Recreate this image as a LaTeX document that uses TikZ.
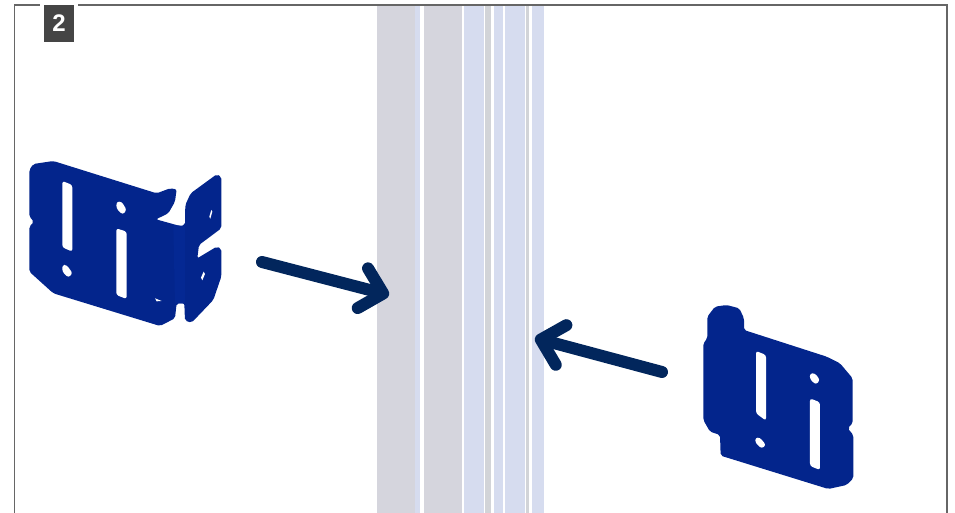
\documentclass[tikz,border=0pt]{standalone}
\usepackage{fontspec}
\setmainfont{Liberation Sans}
\usepackage{xcolor}
\usetikzlibrary{arrows.meta}
\definecolor{bracketblue}{HTML}{03258C}
\definecolor{bracketfold}{HTML}{042893}
\definecolor{arrownavy}{HTML}{02265C}
\definecolor{badgegray}{HTML}{454545}
\definecolor{postgray}{HTML}{D5D5DD}
\definecolor{postblue}{HTML}{D6DCEF}
\definecolor{postgreen}{HTML}{D2D4D8}
\tikzset{
  holefill/.style={fill=white, draw=none, rounded corners=2.5pt},
  pusharrow/.style={arrownavy, line width=12pt, line cap=round, -{Straight Barb[round, line width=12pt, length=21pt, width=41pt]}},
}
\begin{document}
\begin{tikzpicture}[x=1pt, y=-1pt]
\useasboundingbox (0,0) rectangle (955,513);

% Post strips
\foreach \xa/\xb/\col in {377/415/postgray, 415/420/postblue, 424/462/postgray, 464/484/postblue, 485/491/postgreen, 494/503/postblue, 505/525/postblue, 526/529/postgreen, 532/544/postblue}
  \fill[\col] (\xa,5) rectangle (\xb,513);

% Frame
\draw[gray!80!black, line width=1.5pt] (14.5,513) -- (14.5,5) -- (40,5);
\draw[gray!80!black, line width=1.5pt] (78,5) -- (947,5) -- (947,513);

% Badge
\node[fill=badgegray, text=white, font=\bfseries\fontsize{24}{24}\selectfont, minimum width=30pt, minimum height=37pt, inner sep=0pt] (badge) at (59,23.5) {2};

% Left bracket
\begin{scope}[shift={(0,130)}, x=0.3333pt, y=-0.3333pt]
  \fill[bracketblue, rounded corners=2pt] (88,120) -- (100,102) -- (160,93) -- (470,190) -- (510,175) -- (530,178) -- (525,215) -- (505,250) -- (468,268) -- (540,288) -- (555,285) -- (556,225) -- (572,190) -- (650,133) -- (664,140) -- (664,295) -- (597,345) -- (592,385) -- (650,350) -- (664,356) -- (664,440) -- (640,510) -- (575,578) -- (555,572) -- (553,520) -- (530,520) -- (525,565) -- (480,588) -- (160,490) -- (88,425) -- (88,290) -- (102,275) -- (88,260) -- cycle;
  \fill[bracketfold] (520,285) -- (555,290) -- (555,520) -- (525,520) -- cycle;
  \fill[holefill] (187,153) -- (217,165) -- (217,365) -- (187,352) -- cycle;
  \fill[holefill] (187,405) -- (200,405) -- (218,430) -- (205,443) -- (187,425) -- cycle;
  \fill[holefill] (350,215) -- (365,215) -- (380,240) -- (368,254) -- (349,235) -- cycle;
  \fill[holefill] (349,295) -- (380,305) -- (380,507) -- (349,495) -- cycle;
  \fill[white] (465,505) -- (485,513) -- (470,514) -- cycle;
  \fill[white] (634,240) -- (637,245) -- (631,266) -- (628,260) -- cycle;
  \fill[white] (611,425) -- (615,432) -- (607,451) -- (603,443) -- cycle;
\end{scope}

% Right bracket
\begin{scope}[shift={(680,290)}, x=0.3333pt, y=-0.3333pt]
  \fill[bracketblue, rounded corners=2pt] (82,145) -- (82,80) -- (105,50) -- (140,45) -- (178,55) -- (192,85) -- (192,120) -- (440,200) -- (480,220) -- (518,265) -- (518,400) -- (503,415) -- (520,435) -- (520,565) -- (500,585) -- (445,597) -- (122,497) -- (120,435) -- (90,425) -- (70,390) -- (70,160) -- cycle;
  \fill[holefill] (228,183) -- (258,195) -- (258,392) -- (228,370) -- cycle;
  \fill[holefill] (226,443) -- (240,443) -- (258,465) -- (245,476) -- (226,458) -- cycle;
  \fill[holefill] (390,250) -- (405,250) -- (420,270) -- (408,284) -- (390,268) -- cycle;
  \fill[holefill] (390,325) -- (420,337) -- (420,540) -- (390,528) -- cycle;
\end{scope}

% Arrows
\coordinate (leftstart) at (262,262);
\coordinate (lefttip) at (389,295);
\coordinate (rightstart) at (662,372);
\coordinate (righttip) at (535,338);
\draw[pusharrow] (leftstart) -- (lefttip);
\draw[pusharrow] (rightstart) -- (righttip);

\end{tikzpicture}
\end{document}
